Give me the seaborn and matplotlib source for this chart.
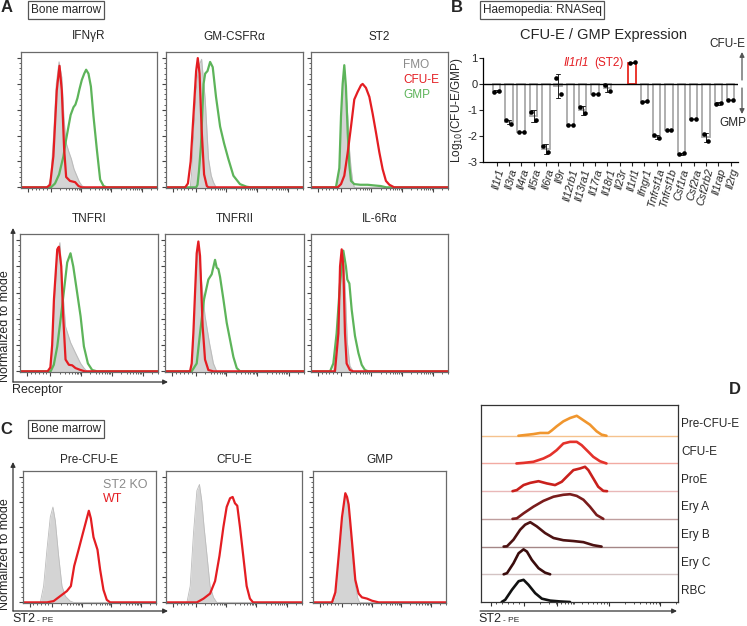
import numpy as np
import pandas as pd
import matplotlib
matplotlib.use("Agg")
import matplotlib.pyplot as plt
from matplotlib.patches import FancyArrowPatch
from matplotlib.ticker import FixedLocator
import seaborn as sns

sns.set_style("white")
plt.rcParams["font.family"] = ["Liberation Sans", "DejaVu Sans"]
plt.rcParams["axes.unicode_minus"] = False

# ---------------------------------------------------------------------------
# panel A: receptor histograms, (x position % of axis, % of mode)
ifngr_fmo = [(0, 0), (20, 0), (22, 8), (24, 40), (26, 80), (28, 97), (30, 85), (31.5, 55), (33, 35), (35, 28),
             (37, 22), (39, 14), (41, 9), (43, 4), (45, 1), (47, 0), (100, 0)]
ifngr_cfue = [(0, 0), (19, 0), (21.4, 2), (23.8, 24), (26.3, 75), (28.3, 94), (30, 75), (31.7, 30), (33.2, 8),
              (36, 5), (39.8, 4), (42.3, 1), (44.7, 0), (100, 0)]
ifngr_gmp = [(0, 0), (22, 0), (25, 3), (28, 10), (31.2, 24), (33, 36), (34.9, 47), (36.5, 56), (38.6, 62),
             (40, 64), (41.5, 69), (43, 76), (44.7, 83), (46.5, 88), (47.9, 91), (49.6, 88), (51.4, 78),
             (53.3, 55), (55.8, 29), (58.2, 6), (60.7, 1), (63, 0), (100, 0)]

gmcsf_fmo = [(0, 0), (17.7, 0), (18.8, 12), (20, 37), (22, 75), (23.7, 93), (26, 99), (28.6, 68), (31, 22),
             (33, 9), (34.6, 4), (36.5, 0), (100, 0)]
gmcsf_cfue = [(0, 0), (14, 0), (16, 3), (18, 20), (20, 55), (22, 90), (23.2, 100), (24.5, 88), (26, 45),
              (27.8, 10), (29.8, 1), (31, 0), (100, 0)]
gmcsf_gmp = [(0, 0), (22, 0), (23, 2), (24, 12), (25.5, 32), (27.4, 80), (28.6, 88), (30.3, 90), (32.2, 97),
             (34.1, 93), (36.5, 70), (39.5, 47), (42.4, 34), (45.5, 22), (49.2, 9), (54, 2.5), (58.8, 0.5),
             (62, 0), (100, 0)]

st2_fmo = [(0, 0), (18.5, 0), (20.7, 15), (21.9, 45), (23.1, 80), (24.3, 93), (25.5, 75), (26.8, 55), (28, 30),
           (29.2, 15), (30.4, 5), (31.6, 0), (100, 0)]
st2_cfue = [(0, 0), (19.5, 0), (21.9, 2.5), (24.3, 9), (26.8, 27), (29.2, 47), (31.6, 68), (34.1, 74),
            (36.5, 79), (37.7, 80), (40.1, 77), (42.6, 70), (45, 57), (47.5, 42), (49.9, 27), (52.3, 14),
            (54.7, 5), (57.2, 2), (60.8, 0), (100, 0)]
st2_gmp = [(0, 0), (18.2, 0), (20.7, 15), (21.9, 55), (23.1, 80), (24.3, 94.5), (25.5, 78), (26.8, 42),
           (28, 17), (29.2, 5), (31.6, 2.5), (36, 2), (41.4, 2), (46, 1.5), (51, 1), (55, 0), (100, 0)]

tnfr1_fmo = [(0, 0), (22.2, 0), (23.3, 12), (24.6, 42), (27, 85), (28.9, 98), (30.6, 67), (33, 34), (36.6, 22),
             (40.2, 14), (43.9, 6), (46.3, 2.5), (48.5, 0), (100, 0)]
tnfr1_cfue = [(0, 0), (20, 0), (22, 3), (23.3, 20), (24.6, 55), (27, 93), (28.2, 95), (29.9, 80), (31.3, 42),
              (33, 9), (35.4, 5), (37.8, 4.6), (40.2, 2.5), (43.9, 1), (47, 0), (100, 0)]
tnfr1_gmp = [(0, 0), (22.2, 0), (24.5, 5), (27, 19), (30.6, 50), (34.2, 83), (36.6, 90), (38.6, 80),
             (41.4, 60), (43.9, 42), (46.3, 19), (49.2, 6), (52.3, 1), (55.9, 0), (100, 0)]

tnfr2_fmo = [(0, 0), (19.2, 0), (20.4, 20), (21.6, 55), (24, 98), (26.4, 67), (28.8, 42), (31.9, 22),
             (34.8, 6), (37.2, 0), (100, 0)]
tnfr2_cfue = [(0, 0), (18, 0), (19.2, 6), (20.4, 29), (22.8, 90), (24, 99), (25.2, 88), (27.1, 34), (28.8, 9),
              (31.2, 1), (34.8, 0), (100, 0)]
tnfr2_gmp = [(0, 0), (19.2, 0), (22.8, 6), (25.2, 29), (28.1, 55), (31.2, 70), (33.6, 74), (36, 85),
             (37.2, 79), (38.4, 78), (39.6, 72), (42, 55), (44.4, 37), (46.8, 24), (49.2, 11), (51.6, 2.5),
             (54, 0), (100, 0)]

il6_fmo = [(0, 0), (16.5, 0), (18.7, 17), (21.2, 67), (23.1, 92), (24.8, 67), (26.5, 22), (28.4, 4),
           (30.8, 0), (100, 0)]
il6_cfue = [(0, 0), (17.5, 0), (20, 29), (21.2, 80), (22.4, 93), (23.6, 80), (24.8, 29), (26, 6), (28.4, 1),
            (30.8, 0), (100, 0)]
il6_gmp = [(0, 0), (13.9, 0), (16.3, 6), (18.7, 29), (21.2, 67), (23.6, 92), (25.5, 80), (26.5, 70), (28, 67),
           (29.7, 47), (32.1, 27), (34.6, 14), (37, 5), (39.4, 1), (41.8, 0), (100, 0)]

# panel C: ST2 KO vs WT
pre_ko = [(0, 0), (13, 0), (15.5, 13), (18, 42), (20.5, 68), (22.5, 76), (24.3, 65), (26.8, 37), (29.3, 13),
          (31.8, 5), (35.5, 1), (38, 0), (100, 0)]
pre_wt = [(0, 0), (18, 0), (23, 1), (28, 5), (33, 9), (36, 13), (38.5, 29), (41.8, 42), (45, 55), (47.5, 65),
          (49.5, 73), (51, 67), (53, 52), (56, 42), (58, 26), (60.5, 10), (63, 2), (65.5, 0), (100, 0)]
cfue_ko = [(0, 0), (15.4, 0), (17.8, 13), (20.2, 55), (22.7, 89), (24.6, 94), (26.3, 81), (28, 60), (30, 39),
           (32.4, 13), (34.9, 4), (37.3, 0), (100, 0)]
cfue_wt = [(0, 0), (22.7, 0), (27.6, 3), (32.4, 7), (36.1, 17), (39.3, 37), (42.2, 60), (44.6, 76), (47.1, 83),
           (49, 84), (50.7, 79), (52.4, 77), (54.4, 60), (56.8, 37), (59.3, 13), (61.7, 3), (64, 0), (100, 0)]
gmp_ko = [(0, 0), (15, 0), (17, 6), (19.3, 33), (21.8, 66), (24.3, 84), (25.6, 82), (26.8, 74), (28.1, 58),
          (30.1, 32), (31.8, 14), (33.5, 4), (35, 0), (100, 0)]
gmp_wt = [(0, 0), (14.3, 0), (16.8, 8), (19.3, 37), (21.8, 68), (24.3, 87), (25.6, 84), (26.8, 78), (28.1, 63),
          (30.1, 39), (31.8, 18), (34.3, 7), (36.8, 4), (40.6, 3), (44.4, 1.3), (49.4, 0), (100, 0)]

# panel D: ridge histograms (height in units of ridge spacing = 100)
d_names = ["Pre-CFU-E", "CFU-E", "ProE", "Ery A", "Ery B", "Ery C", "RBC"]
d_pre = [(19, 0), (26.6, 6), (30, 10), (34.2, 10), (35.9, 19), (38.4, 34), (41.8, 52), (45.2, 64), (48.6, 72),
         (50.3, 64), (52.8, 52), (55.3, 40), (58.7, 16), (61.2, 4), (63.7, 0)]
d_cfue = [(18, 0), (21.6, 2), (26.6, 6), (31.7, 18), (35.1, 30), (38.4, 48), (41.8, 72), (45.2, 78),
          (48.6, 78), (51.1, 66), (54.5, 42), (57, 24), (60.4, 8), (63.7, 0)]
d_proe = [(16, 0), (18.2, 4), (21.6, 22), (25, 30), (29.2, 36), (33.4, 28), (37.6, 22), (41, 34), (43.5, 52),
          (46.9, 76), (50.3, 82), (52.8, 88), (54.5, 76), (57, 46), (59.5, 16), (62.1, 1), (64, 0)]
d_erya = [(16, 0), (18.2, 2), (21.6, 20), (26.6, 44), (31.7, 65), (36.8, 80), (41.8, 87), (45.2, 89),
          (48.6, 83), (52, 69), (55.3, 44), (58.7, 14), (62.1, 0)]
d_eryb = [(11.5, 0), (13.2, 1), (16.5, 25), (19.9, 61), (22.4, 79), (25, 88), (28.3, 73), (32.5, 49),
          (36.8, 31), (41.8, 23), (46.9, 20), (52, 16), (57, 5), (61.2, 0)]
d_eryc = [(11.5, 0), (13.2, 4), (16.5, 40), (19.1, 76), (21.6, 90), (23.3, 82), (25.8, 52), (29.2, 22),
          (32.5, 6), (35.1, 0)]
d_rbc = [(10.5, 0), (12.3, 8), (15.7, 44), (19.1, 75), (21.6, 80), (24.1, 62), (27.5, 32), (30.9, 12),
         (35.1, 5), (40.1, 2), (45.2, 0)]
d_colors = ["#f0962e", "#e4322b", "#c9201c", "#7a1c1c", "#4d1212", "#3a0c0c", "#111111"]
d_base = ["#f5c28e", "#f2aaa2", "#e9b8b8", "#bf9e9e", "#a48686", "#d3c3c3", "#111111"]

# panel B: log10(CFU-E/GMP), two replicates
genes = ["Il1r1", "Il3ra", "Il4ra", "Il5ra", "Il6ra", "Il9r", "Il12rb1", "Il13ra1", "Il17ra", "Il18r1",
         "Il23r", "Il1rl1", "Ifngr1", "Tnfrsf1a", "Tnfrsf1b", "Csf1ra", "Csf2ra", "Csf2rb2", "Il1rap", "Il2rg"]
rep1 = [-0.30, -1.40, -1.83, -1.08, -2.37, 0.25, -1.57, -0.90, -0.38, -0.05,
        np.nan, 0.80, -0.68, -1.97, -1.78, -2.71, -1.35, -1.93, -0.78, -0.62]
rep2 = [-0.25, -1.52, -1.83, -1.40, -2.63, -0.40, -1.57, -1.13, -0.38, -0.27,
        np.nan, 0.85, -0.66, -2.08, -1.78, -2.65, -1.35, -2.18, -0.72, -0.62]

# colours
RED = "#e41d22"
GREEN = "#5db45a"
GRAY_FILL = "#d4d4d4"
GRAY_EDGE = "#bcbcbc"

# ---------------------------------------------------------------------------
W, H = 747, 626
fig = plt.figure(figsize=(W / 100, H / 100), dpi=100)


def box(l, t, r, b):
    return [l / W, 1 - b / H, (r - l) / W, (b - t) / H]


def ftext(x, y, s, **kw):
    kw.setdefault("va", "center")
    kw.setdefault("fontsize", 8.5)
    return fig.text(x / W, 1 - y / H, s, **kw)


def arrow(x0, y0, x1, y1, color="#333333"):
    fig.add_artist(FancyArrowPatch((x0 / W, 1 - y0 / H), (x1 / W, 1 - y1 / H), transform=fig.transFigure,
                                   arrowstyle="-|>", mutation_scale=7, lw=0.9, color=color,
                                   shrinkA=0, shrinkB=0))


# flow-style log tick marks (no labels)
major_x = [5, 22, 44, 66.5, 89]
minor_x = list(np.linspace(5, 22, 7)[1:-1])
for start in [22, 44, 66.5, 89]:
    minor_x += [start + 22.5 * np.log10(k) for k in range(2, 10) if start + 22.5 * np.log10(k) < 100]


def style_flow(ax, yticks=True):
    ax.set_xlim(0, 100)
    ax.set_ylim(-0.5, 104.7)
    ax.set_xlabel("")
    ax.set_ylabel("")
    for s in ax.spines.values():
        s.set_color("#6a6a6a")
        s.set_linewidth(0.9)
    ax.xaxis.set_major_locator(FixedLocator(major_x))
    ax.xaxis.set_minor_locator(FixedLocator(minor_x))
    if yticks:
        ax.yaxis.set_major_locator(FixedLocator([0, 20, 40, 60, 80, 100]))
        ax.yaxis.set_minor_locator(FixedLocator([v for v in range(0, 101, 4) if v % 20]))
    else:
        ax.set_yticks([])
    ax.tick_params(which="both", direction="out", color="#444444", labelbottom=False, labelleft=False,
                   bottom=True, left=yticks)
    ax.tick_params(which="major", length=3, width=0.8)
    ax.tick_params(which="minor", length=1.6, width=0.6)


def draw_curve(ax, pts, color, lw=1.6, offset=0, fill=None):
    df = pd.DataFrame(pts, columns=["x", "y"])
    df["y"] = df["y"] + offset
    if fill is not None:
        ax.fill_between(df["x"], offset, df["y"], color=fill, lw=0)
    sns.lineplot(data=df, x="x", y="y", ax=ax, color=color, lw=lw, sort=False, estimator=None)


# PANEL A -------------------------------------------------------------------
row_a = [
    ("IFN\u03b3R", box(21, 52, 157, 188), ifngr_fmo, ifngr_cfue, ifngr_gmp),
    ("GM-CSFR\u03b1", box(166, 52, 303, 188), gmcsf_fmo, gmcsf_cfue, gmcsf_gmp),
    ("ST2", box(311, 52, 448, 188), st2_fmo, st2_cfue, st2_gmp),
    ("TNFRI", box(20, 234, 158, 372), tnfr1_fmo, tnfr1_cfue, tnfr1_gmp),
    ("TNFRII", box(165, 234, 304, 372), tnfr2_fmo, tnfr2_cfue, tnfr2_gmp),
    ("IL-6R\u03b1", box(311, 234, 448, 372), il6_fmo, il6_cfue, il6_gmp),
]
for title, pos, fmo, cfue, gmp in row_a:
    ax = fig.add_axes(pos)
    draw_curve(ax, fmo, GRAY_EDGE, lw=0.8, fill=GRAY_FILL)
    draw_curve(ax, gmp, GREEN, lw=1.6)
    draw_curve(ax, cfue, RED, lw=1.6)
    style_flow(ax)
    ax.set_title(title, fontsize=8.5, pad=9)

ftext(7, 8, "A", fontsize=12, fontweight="bold", ha="center")
ftext(66, 10, "Bone marrow", ha="center",
      bbox=dict(boxstyle="square,pad=0.25", fc="white", ec="#555555", lw=0.9))
ftext(403, 65, "FMO", color="#8a8a8a")
ftext(403, 80, "CFU-E", color=RED)
ftext(403, 95, "GMP", color=GREEN)
arrow(13, 382, 13, 228)
arrow(13, 382, 168, 382)
ftext(5, 326, "Normalized to mode", rotation=90, ha="center", fontsize=9)
ftext(12, 390, "Receptor", ha="left", fontsize=9)

# PANEL C -------------------------------------------------------------------
row_c = [
    ("Pre-CFU-E", box(23, 471, 156, 603), pre_ko, pre_wt),
    ("CFU-E", box(166, 471, 302, 603), cfue_ko, cfue_wt),
    ("GMP", box(313, 471, 446, 603), gmp_ko, gmp_wt),
]
for title, pos, ko, wt in row_c:
    ax = fig.add_axes(pos)
    draw_curve(ax, ko, GRAY_EDGE, lw=0.6, fill=GRAY_FILL)
    draw_curve(ax, wt, RED, lw=1.6)
    style_flow(ax)
    ax.set_title(title, fontsize=8.5, pad=6)

ftext(6, 429, "C", fontsize=12, fontweight="bold", ha="center")
ftext(66, 429, "Bone marrow", ha="center",
      bbox=dict(boxstyle="square,pad=0.25", fc="white", ec="#555555", lw=0.9))
ftext(103, 485, "ST2 KO", color="#8a8a8a", fontsize=9)
ftext(103, 499, "WT", color=RED, fontsize=9)
arrow(13, 611, 13, 462)
arrow(13, 611, 168, 611)
ftext(5, 554, "Normalized to mode", rotation=90, ha="center", fontsize=9)
ftext(12, 619, "ST2", ha="left", fontsize=9)
ftext(37, 620, "- PE", ha="left", fontsize=6)

# PANEL B -------------------------------------------------------------------
df_b = pd.DataFrame({"gene": genes * 2, "value": rep1 + rep2,
                     "rep": ["r1"] * len(genes) + ["r2"] * len(genes)}).dropna()
bar_colors = {g: ("#e8281f" if g == "Il1rl1" else "#a9a9a9") for g in genes}

axb = fig.add_axes(box(483, 58, 738, 162))
sns.barplot(data=df_b, x="gene", y="value", order=genes, hue="gene", palette=bar_colors, fill=False,
            errorbar="sd", capsize=0.35, err_kws={"color": "#222222", "linewidth": 0.7},
            width=0.6, linewidth=1.3, legend=False, ax=axb)
sns.stripplot(data=df_b, x="gene", y="value", order=genes, hue="rep", palette=["black", "black"],
              dodge=True, jitter=False, size=3.3, legend=False, ax=axb)
axb.axhline(0, color="black", lw=1)
axb.set_xlim(-1.1, 19.6)
axb.set_ylim(-3, 1)
axb.set_yticks([-3, -2, -1, 0, 1])
axb.set_xlabel("")
axb.set_ylabel("Log$_{10}$(CFU-E/GMP)", fontsize=8.5, labelpad=2)
for s in ["top", "right"]:
    axb.spines[s].set_visible(False)
for s in ["left", "bottom"]:
    axb.spines[s].set_color("black")
    axb.spines[s].set_linewidth(0.9)
axb.tick_params(axis="y", left=True, length=3, width=0.8, labelsize=8, pad=1)
axb.tick_params(axis="x", bottom=True, length=3, width=0.8, pad=1)
axb.set_xticks(range(len(genes)))
axb.set_xticklabels(genes, rotation=75, ha="right", rotation_mode="anchor", fontsize=7.8, style="italic")

ftext(457, 8, "B", fontsize=12, fontweight="bold", ha="center")
ftext(542, 10, "Haemopedia: RNASeq", ha="center",
      bbox=dict(boxstyle="square,pad=0.25", fc="white", ec="#555555", lw=0.9))
ftext(604, 35, "CFU-E / GMP Expression", ha="center", fontsize=10.5)
ftext(564, 63, "Il1rl1", color=RED, style="italic", ha="left")
ftext(594, 63, "(ST2)", color=RED, ha="left")
ftext(745, 44, "CFU-E", ha="right")
ftext(746, 123, "GMP", ha="right")
arrow(742, 80, 742, 52, color="#555555")
arrow(742, 88, 742, 114, color="#555555")

# PANEL D -------------------------------------------------------------------
axd = fig.add_axes(box(481, 405, 678, 602))
d_curves = [d_pre, d_cfue, d_proe, d_erya, d_eryb, d_eryc, d_rbc]
for i, pts in enumerate(d_curves):
    off = (len(d_curves) - 1 - i) * 100
    if i < len(d_curves) - 1:
        axd.axhline(off, color=d_base[i], lw=1)
    draw_curve(axd, pts, d_colors[i], lw=1.9, offset=off)
    ftext(681, 424 + i * 27.8, d_names[i], ha="left")
axd.set_xlim(0, 100)
axd.set_ylim(0, 711)
axd.set_xlabel("")
axd.set_ylabel("")
for s in axd.spines.values():
    s.set_color("#333333")
    s.set_linewidth(0.9)
d_major = [5, 22, 38.5, 65, 91]
d_minor = list(np.linspace(5, 22, 7)[1:-1])
for start in [22, 38.5, 65, 91]:
    d_minor += [start + 26.5 * np.log10(k) for k in range(2, 10) if start + 26.5 * np.log10(k) < 100]
axd.xaxis.set_major_locator(FixedLocator(d_major))
axd.xaxis.set_minor_locator(FixedLocator(d_minor))
axd.set_yticks([])
axd.tick_params(which="both", direction="out", bottom=True, labelbottom=False, color="#333333")
axd.tick_params(which="major", length=3, width=0.8)
axd.tick_params(which="minor", length=1.6, width=0.6)

ftext(735, 390, "D", fontsize=12, fontweight="bold", ha="center")
arrow(480, 611, 677, 611)
ftext(478, 619, "ST2", ha="left", fontsize=9)
ftext(503, 620, "- PE", ha="left", fontsize=6)

fig.savefig("out.png", dpi=100)
